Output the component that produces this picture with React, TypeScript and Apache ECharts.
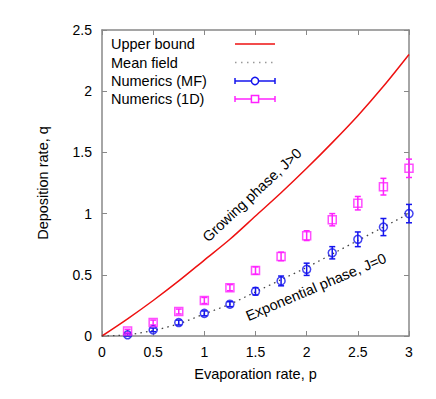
import React, { useEffect, useRef } from "react";
import * as echarts from "echarts";

const pValues = [0.25, 0.5, 0.75, 1, 1.25, 1.5, 1.75, 2, 2.25, 2.5, 2.75, 3];
const mfValues = [0.01, 0.05, 0.11, 0.185, 0.26, 0.365, 0.45, 0.545, 0.68, 0.79, 0.89, 1.0];
const mfErrors = [0.01, 0.015, 0.02, 0.02, 0.02, 0.03, 0.04, 0.05, 0.05, 0.06, 0.07, 0.075];
const oneDValues = [0.04, 0.11, 0.2, 0.29, 0.395, 0.535, 0.65, 0.82, 0.95, 1.085, 1.22, 1.37];
const oneDErrors = [0.015, 0.02, 0.02, 0.025, 0.025, 0.03, 0.035, 0.04, 0.05, 0.055, 0.068, 0.075];

const curveP = [0, 0.25, 0.5, 0.75, 1, 1.25, 1.5, 1.75, 2, 2.25, 2.5, 2.75, 3];
const upperBoundQ = [0, 0.14, 0.29, 0.45, 0.62, 0.79, 0.98, 1.17, 1.37, 1.58, 1.8, 2.04, 2.3];
const meanFieldQ = [0, 0.01, 0.045, 0.1, 0.18, 0.26, 0.36, 0.46, 0.56, 0.67, 0.78, 0.89, 1.0];

const xTicks = [0, 0.5, 1, 1.5, 2, 2.5, 3];
const yTicks = [0, 0.5, 1, 1.5, 2, 2.5];

const legendLabels = ["Upper bound", "Mean field", "Numerics (MF)", "Numerics (1D)"];

const BLUE = "#1414ee";
const MAGENTA = "#ff22ff";
const RED = "#ee1111";
const FRAME = "#888888";
const FONT = "Liberation Sans, Arial, sans-serif";

function errorBarRenderer(color: string) {
  return (params: any, api: any) => {
    const x = api.value(0);
    const y = api.value(1);
    const e = api.value(2);
    const top = api.coord([x, y + e]);
    const bot = api.coord([x, y - e]);
    const hw = 3;
    const style = { stroke: color, lineWidth: 1.5 };
    return {
      type: "group",
      children: [
        { type: "line", shape: { x1: top[0], y1: top[1], x2: bot[0], y2: bot[1] }, style },
        { type: "line", shape: { x1: top[0] - hw, y1: top[1], x2: top[0] + hw, y2: top[1] }, style },
        { type: "line", shape: { x1: bot[0] - hw, y1: bot[1], x2: bot[0] + hw, y2: bot[1] }, style },
      ],
    };
  };
}

export default function App() {
  const ref = useRef<HTMLDivElement>(null);
  useEffect(() => {
    if (!ref.current) return;
    const chart = echarts.init(ref.current, null, { renderer: "svg" });

    const axisCommon = {
      type: "value" as const,
      splitLine: { show: false },
      axisLine: { show: true, onZero: false, lineStyle: { color: FRAME, width: 1.5 } },
      axisTick: { show: true, inside: true, length: 5, lineStyle: { color: FRAME, width: 1 } },
    };

    const legendY = [44, 62.5, 81, 99];
    const sx0 = 235;
    const sx1 = 275;
    const smid = 255;
    const legendGraphics: any[] = [];
    legendLabels.forEach((label, i) => {
      legendGraphics.push({
        type: "text",
        x: 111,
        y: legendY[i],
        style: { text: label, font: `14.5px ${FONT}`, fill: "#000", textVerticalAlign: "middle", textAlign: "left" },
      });
    });
    legendGraphics.push({ type: "line", shape: { x1: sx0, y1: legendY[0], x2: sx1, y2: legendY[0] }, style: { stroke: RED, lineWidth: 1.5 } });
    legendGraphics.push({ type: "line", shape: { x1: sx0, y1: legendY[1], x2: sx1, y2: legendY[1] }, style: { stroke: "#999", lineWidth: 1.5, lineDash: [1.5, 4.5] } });
    [
      { y: legendY[2], c: BLUE, sym: "circle" },
      { y: legendY[3], c: MAGENTA, sym: "rect" },
    ].forEach((r) => {
      const st = { stroke: r.c, lineWidth: 1.5 };
      legendGraphics.push({ type: "line", shape: { x1: sx0, y1: r.y, x2: sx1, y2: r.y }, style: st });
      legendGraphics.push({ type: "line", shape: { x1: sx0, y1: r.y - 3, x2: sx0, y2: r.y + 3 }, style: st });
      legendGraphics.push({ type: "line", shape: { x1: sx1, y1: r.y - 3, x2: sx1, y2: r.y + 3 }, style: st });
      if (r.sym === "circle") {
        legendGraphics.push({ type: "circle", shape: { cx: smid, cy: r.y, r: 3.6 }, style: { fill: "#fff", stroke: r.c, lineWidth: 1.5 } });
      } else {
        legendGraphics.push({ type: "rect", shape: { x: smid - 3.6, y: r.y - 3.6, width: 7.2, height: 7.2 }, style: { fill: "#fff", stroke: r.c, lineWidth: 1.5 } });
      }
    });

    chart.setOption({
      animation: false,
      backgroundColor: "#fff",
      textStyle: { fontFamily: FONT },
      grid: { left: 102, right: 27, top: 30, bottom: 63, containLabel: false },
      xAxis: [
        {
          ...axisCommon,
          position: "bottom",
          min: xTicks[0],
          max: xTicks[xTicks.length - 1],
          interval: 0.5,
          name: "Evaporation rate, p",
          nameLocation: "middle",
          nameGap: 30,
          nameTextStyle: { fontSize: 14.5, color: "#000", fontFamily: FONT },
          axisLabel: { fontSize: 14, color: "#000", margin: 9, fontFamily: FONT },
        },
        {
          ...axisCommon,
          position: "top",
          min: xTicks[0],
          max: xTicks[xTicks.length - 1],
          interval: 0.5,
          axisLabel: { show: false },
        },
      ],
      yAxis: [
        {
          ...axisCommon,
          position: "left",
          min: yTicks[0],
          max: yTicks[yTicks.length - 1],
          interval: 0.5,
          name: "Deposition rate, q",
          nameLocation: "middle",
          nameGap: 52,
          nameTextStyle: { fontSize: 14.5, color: "#000", fontFamily: FONT },
          axisLabel: { fontSize: 14, color: "#000", margin: 10, fontFamily: FONT },
        },
        {
          ...axisCommon,
          position: "right",
          min: yTicks[0],
          max: yTicks[yTicks.length - 1],
          interval: 0.5,
          axisLabel: { show: false },
        },
      ],
      graphic: [
        ...legendGraphics,
        {
          type: "text",
          x: 252,
          y: 195,
          rotation: (43 * Math.PI) / 180,
          style: { text: "Growing phase, J>0", font: `14.5px ${FONT}`, fill: "#000", textAlign: "center", textVerticalAlign: "middle" },
        },
        {
          type: "text",
          x: 316,
          y: 287,
          rotation: (23 * Math.PI) / 180,
          style: { text: "Exponential phase, J=0", font: `14.5px ${FONT}`, fill: "#000", textAlign: "center", textVerticalAlign: "middle" },
        },
      ],
      series: [
        {
          name: "Upper bound",
          type: "line",
          xAxisIndex: 0,
          yAxisIndex: 0,
          data: curveP.map((p, i) => [p, upperBoundQ[i]]),
          smooth: 0.3,
          showSymbol: false,
          symbol: "none",
          lineStyle: { color: RED, width: 1.5 },
          z: 2,
        },
        {
          name: "Mean field",
          type: "line",
          data: curveP.map((p, i) => [p, meanFieldQ[i]]),
          smooth: 0.3,
          showSymbol: false,
          symbol: "none",
          lineStyle: { color: "#444", width: 1.3, type: [1.5, 4] },
          z: 2,
        },
        {
          name: "MF error",
          type: "custom",
          renderItem: errorBarRenderer(BLUE),
          data: pValues.map((p, i) => [p, mfValues[i], mfErrors[i]]),
          encode: { x: 0, y: 1 },
          z: 3,
        },
        {
          name: "Numerics (MF)",
          type: "scatter",
          data: pValues.map((p, i) => [p, mfValues[i]]),
          symbol: "circle",
          symbolSize: 8,
          itemStyle: { color: "rgba(255,255,255,0)", borderColor: BLUE, borderWidth: 1.5 },
          z: 4,
        },
        {
          name: "1D error",
          type: "custom",
          renderItem: errorBarRenderer(MAGENTA),
          data: pValues.map((p, i) => [p, oneDValues[i], oneDErrors[i]]),
          encode: { x: 0, y: 1 },
          z: 3,
        },
        {
          name: "Numerics (1D)",
          type: "scatter",
          data: pValues.map((p, i) => [p, oneDValues[i]]),
          symbol: "rect",
          symbolSize: 8,
          itemStyle: { color: "rgba(255,255,255,0)", borderColor: MAGENTA, borderWidth: 1.5 },
          z: 4,
        },
      ],
    });
    return () => chart.dispose();
  }, []);
  return (
    <div
      ref={ref}
      style={{ position: "fixed", left: 0, top: 0, width: 436, height: 399, background: "#fff" }}
    />
  );
}
